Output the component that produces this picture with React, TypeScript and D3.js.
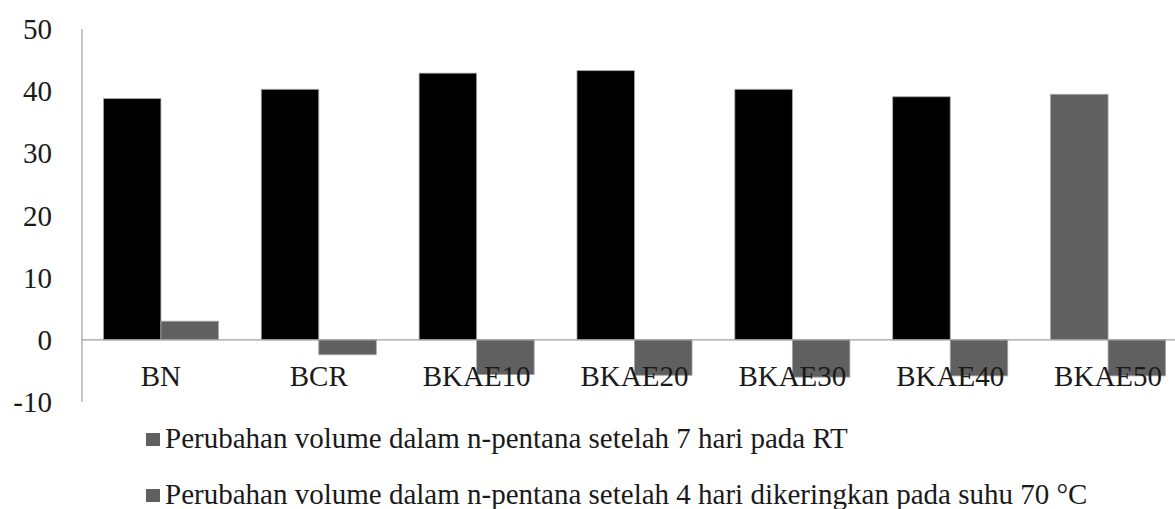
import { useEffect, useRef } from 'react';
import * as d3 from 'd3';

const categories = ['BN', 'BCR', 'BKAE10', 'BKAE20', 'BKAE30', 'BKAE40', 'BKAE50'];
const seriesNames = [
    'Perubahan volume dalam n-pentana setelah 7 hari pada RT',
    'Perubahan volume dalam n-pentana setelah 4 hari dikeringkan pada suhu 70 °C',
];
const rtValues = [38.8, 40.3, 42.9, 43.3, 40.3, 39.1, 39.5];
const dryValues = [3.0, -2.4, -5.6, -5.7, -6.0, -5.8, -5.8];
const yTicks = [-10, 0, 10, 20, 30, 40, 50];

const App = () => {
    const ref = useRef<SVGSVGElement>(null);
    const width = 1175,
        height = 509;

    useEffect(() => {
        const svg = d3.select(ref.current);
        svg.selectAll('*').remove();

        const left = 82,
            right = 1187;
        const font = "'Liberation Serif', 'Times New Roman', serif";

        const x0 = d3.scaleBand<string>().domain(categories).range([left, right]).padding(0);
        const x1 = d3
            .scaleBand<number>()
            .domain([0, 1])
            .range([0, x0.bandwidth()])
            .paddingInner(0)
            .paddingOuter(0.372);
        const y = d3.scaleLinear().domain([-10, 50]).range([402, 29]);

        // bars
        const rows = categories.map((c, i) => ({ c, vals: [rtValues[i], dryValues[i]] }));
        const groups = svg
            .append('g')
            .selectAll('g')
            .data(rows)
            .enter()
            .append('g')
            .attr('transform', (d) => `translate(${x0(d.c)},0)`);

        groups
            .selectAll('rect')
            .data((d) => d.vals.map((v, k) => ({ v, k, c: d.c })))
            .enter()
            .append('rect')
            .attr('x', (d) => x1(d.k)!)
            .attr('width', x1.bandwidth())
            .attr('y', (d) => y(Math.max(0, d.v)))
            .attr('height', (d) => Math.abs(y(d.v) - y(0)))
            .attr('fill', (d) => (d.k === 0 && d.c !== 'BKAE50' ? '#000000' : '#606060'))
            .attr('stroke', '#a6a6a6')
            .attr('stroke-width', 0.8);

        // axis lines
        svg.append('line')
            .attr('x1', left)
            .attr('x2', width)
            .attr('y1', y(0))
            .attr('y2', y(0))
            .attr('stroke', '#a0a0a0')
            .attr('stroke-width', 1.2);
        svg.append('line')
            .attr('x1', left)
            .attr('x2', left)
            .attr('y1', y(50))
            .attr('y2', y(-10))
            .attr('stroke', '#a0a0a0')
            .attr('stroke-width', 1.2);

        // y tick labels
        svg.append('g')
            .selectAll('text')
            .data(yTicks)
            .enter()
            .append('text')
            .attr('x', 52)
            .attr('y', (d) => y(d))
            .attr('dy', '0.35em')
            .attr('text-anchor', 'end')
            .attr('font-family', font)
            .attr('font-size', 29)
            .attr('fill', '#1a1a1a')
            .text((d) => d);

        // category labels
        svg.append('g')
            .selectAll('text')
            .data(categories)
            .enter()
            .append('text')
            .attr('x', (d) => x0(d)! + x0.bandwidth() / 2)
            .attr('y', 386)
            .attr('text-anchor', 'middle')
            .attr('font-family', font)
            .attr('font-size', 29)
            .attr('fill', '#1a1a1a')
            .text((d) => d);

        // legend
        const legend = svg
            .append('g')
            .selectAll('g')
            .data(seriesNames)
            .enter()
            .append('g')
            .attr('transform', (d, i) => `translate(146,${433 + i * 56})`);
        legend.append('rect').attr('width', 14).attr('height', 13).attr('fill', '#606060');
        legend
            .append('text')
            .attr('x', 19)
            .attr('y', 15)
            .attr('font-family', font)
            .attr('font-size', 29)
            .attr('fill', '#1a1a1a')
            .text((d) => d);
    }, []);

    return (
        <svg
            ref={ref}
            width={width}
            height={height}
            style={{ position: 'absolute', left: 0, top: 0, background: '#fff' }}
        ></svg>
    );
};

export default App;
